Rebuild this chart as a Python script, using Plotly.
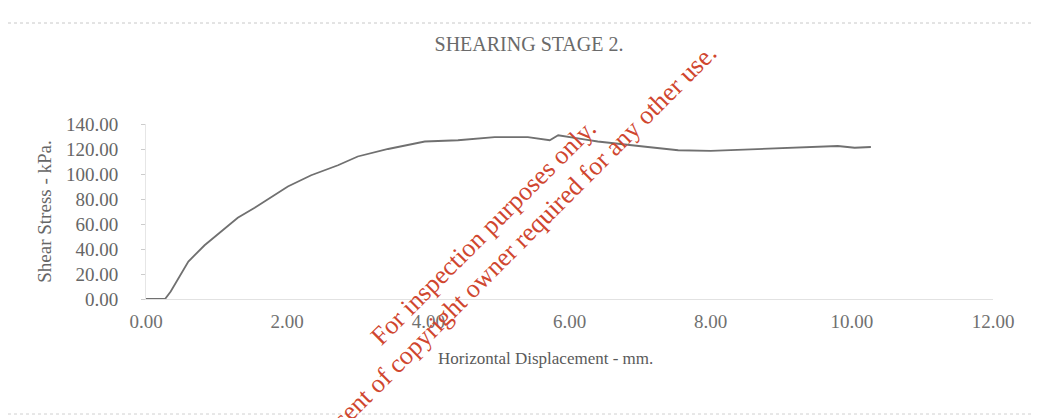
import plotly.graph_objects as go

# Data
displacement_mm = [0.0, 0.27, 0.35, 0.60, 0.83, 1.06, 1.30, 1.54, 1.77, 2.01, 2.34, 2.72, 3.00,
                   3.43, 3.95, 4.42, 4.94, 5.41, 5.72, 5.84, 6.23, 6.40, 7.11, 7.54, 8.00,
                   8.71, 9.28, 9.80, 10.04, 10.27]
shear_stress_kpa = [0.0, 0.0, 6.0, 30.0, 43.0, 54.0, 65.0, 73.0, 81.0, 90.0, 99.0, 107.0, 114.0,
                    120.0, 126.0, 127.0, 129.5, 129.5, 127.0, 131.0, 127.5, 126.0, 121.6, 119.0, 118.5,
                    120.0, 121.6, 122.4, 121.0, 121.6]
x_ticks = [0, 2, 4, 6, 8, 10, 12]
y_ticks = [0, 20, 40, 60, 80, 100, 120, 140]

title_text = "SHEARING STAGE 2."
x_title = "Horizontal Displacement - mm."
y_title = "Shear Stress - kPa."
watermark_1 = "For inspection purposes only."
watermark_2 = "Consent of copyright owner required for any other use."

W, H = 1042, 418
ML, MR, MT, MB = 138, 57, 116, 127
PW, PH = W - ML - MR, H - MT - MB


def px_to_paper(px, py):
    return (px - ML) / PW, 1 - (py - MT) / PH


SERIF = "Liberation Serif, Times New Roman, serif"

fig = go.Figure()
fig.add_trace(go.Scatter(
    x=displacement_mm, y=shear_stress_kpa, mode="lines",
    line=dict(color="#707070", width=1.8), showlegend=False, hoverinfo="skip",
))

fig.update_layout(
    width=W, height=H,
    margin=dict(l=ML, r=MR, t=MT, b=MB, autoexpand=False),
    paper_bgcolor="white", plot_bgcolor="white",
    font=dict(family=SERIF, color="#555555", size=16),
    title=dict(text=title_text, x=0.5, xanchor="center", y=1 - 36 / H, yanchor="middle",
               font=dict(family=SERIF, size=20, color="#6a6a6a")),
    showlegend=False,
)

fig.update_xaxes(
    range=[0, 12], tickvals=x_ticks, tickformat=".2f",
    showgrid=False, zeroline=False,
    showline=True, linecolor="#e2e2e2", linewidth=1,
    ticks="", ticklabelstandoff=5,
    tickfont=dict(family=SERIF, size=19, color="#707070"),
)
fig.update_yaxes(
    range=[0, 140], tickvals=y_ticks, tickformat=".2f",
    showgrid=False, zeroline=False,
    showline=True, linecolor="#e6e6e6", linewidth=1,
    ticks="outside", ticklen=4, tickcolor="#cccccc",
    ticklabelstandoff=19,
    tickfont=dict(family=SERIF, size=19, color="#666666"),
    title=dict(text=y_title, standoff=9, font=dict(family=SERIF, size=19, color="#666666")),
)

# x-axis title placed where the reference shows it
xt_x, xt_y = px_to_paper(537, 350)
fig.add_annotation(text=x_title, xref="paper", yref="paper", x=xt_x, y=xt_y,
                   xanchor="center", yanchor="middle", showarrow=False,
                   font=dict(family=SERIF, size=17, color="#5a5a5a"))

# faint scan borders
fig.add_shape(type="line", xref="paper", yref="paper",
              x0=px_to_paper(0, 0)[0], x1=px_to_paper(W, 0)[0],
              y0=px_to_paper(0, 15)[1], y1=px_to_paper(0, 15)[1],
              line=dict(color="#c8c8c8", width=1, dash="dot"))
fig.add_shape(type="line", xref="paper", yref="paper",
              x0=px_to_paper(0, 0)[0], x1=px_to_paper(W, 0)[0],
              y0=px_to_paper(0, 406)[1], y1=px_to_paper(0, 406)[1],
              line=dict(color="#d0d0d0", width=1, dash="dot"))

# watermark
wm_color = "#d0462f"
x1, y1 = px_to_paper(475, 224)
x2, y2 = px_to_paper(501, 243)
fig.add_annotation(text=watermark_1, xref="paper", yref="paper", x=x1, y=y1,
                   xanchor="center", yanchor="middle", showarrow=False, textangle=-45,
                   font=dict(family=SERIF, size=26, color=wm_color))
fig.add_annotation(text=watermark_2, xref="paper", yref="paper", x=x2, y=y2,
                   xanchor="center", yanchor="middle", showarrow=False, textangle=-45,
                   font=dict(family=SERIF, size=26, color=wm_color))

fig.write_html("out.html")
